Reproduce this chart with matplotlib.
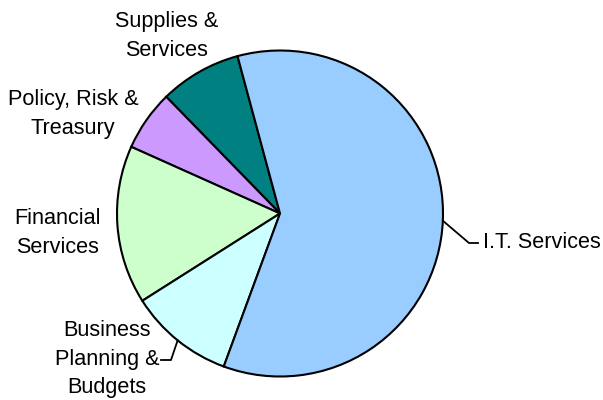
import numpy as np
import matplotlib.pyplot as plt

plt.rcParams['font.family'] = ['Liberation Sans', 'DejaVu Sans']

# shares of spend by service area (percent)
labels = ["Supplies &\nServices", "Policy, Risk &\nTreasury", "Financial\nServices",
          "Business\nPlanning &\nBudgets", "I.T. Services"]
shares = [8.1, 6.0, 15.7, 10.4, 59.8]
colors = ["#008080", "#CC99FF", "#CCFFCC", "#CCFFFF", "#99CCFF"]

fig = plt.figure(figsize=(6.03, 4.0), dpi=100)
ax = fig.add_axes([0, 0, 1, 1])

cx, cy, r = 280, 186.5, 163
wedges, _ = ax.pie(shares, colors=colors, startangle=105.1, counterclock=True,
                   center=(cx, cy), radius=r, frame=True,
                   wedgeprops=dict(edgecolor='black', linewidth=1.5))
ax.set_xlim(0, 603)
ax.set_ylim(0, 400)
ax.set_aspect('equal')
ax.axis('off')

fs = 15.6
ls = 1.5
# labels placed around the pie
ax.text(167, 364, labels[0], ha='center', va='center', fontsize=fs, linespacing=ls)
ax.text(73, 286, labels[1], ha='center', va='center', fontsize=fs, linespacing=ls)
ax.text(58, 167, labels[2], ha='center', va='center', fontsize=fs, linespacing=ls)
ax.text(107, 41, labels[3], ha='center', va='center', fontsize=fs, linespacing=ls)
ax.text(483, 157, labels[4], ha='left', va='center', fontsize=fs)

# leader lines from the wedge middles
def edge_point(w):
    a = np.deg2rad((w.theta1 + w.theta2) / 2)
    return cx + r * np.cos(a), cy + r * np.sin(a)

x0, y0 = edge_point(wedges[4])
ax.plot([x0, 469, 478], [y0, 157, 157], color='black', lw=1.3)
x0, y0 = edge_point(wedges[3])
ax.plot([x0, 171, 161], [y0, 40, 40], color='black', lw=1.3)

plt.savefig("out.png", dpi=100)
